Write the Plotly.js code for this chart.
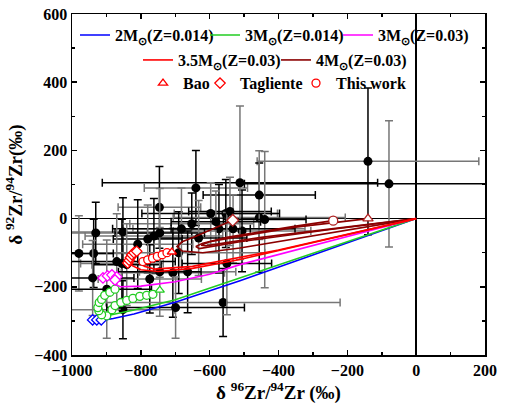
<!DOCTYPE html>
<html><head><meta charset="utf-8">
<script src="https://cdn.plot.ly/plotly-3.0.1.min.js"></script>
<style>html,body{margin:0;padding:0;background:#fff;font-family:'Liberation Serif'}#chart{width:505px;height:408px}</style>
</head><body><div id="chart"></div>
<script>
// ---- measured data (group A: gray x-bars / black y-bars) ----
const aX  = [-140,-640,-746,-553,-456,-652,-573,-506,-852,-762,-809,-937,-855,-707,-664,-774,-852,-561,-931,-690];
const aY  = [168,90,33,15,3,-15,-30,-36,-39,-51,-75,-102,-132,-159,-156,-177,-267,-246,-42,-100];
const aEX = [322,150,120,150,250,180,250,200,220,200,160,110,120,150,140,150,150,340,150,250];
const aEY = [215,110,120,100,160,90,130,120,100,110,130,100,130,130,120,100,85,100,90,120];
// ---- group B: black x-bars / gray y-bars ----
const bX  = [-79,-512,-456,-597,-541,-440,-582,-682,-532,-745,-780,-632,-980,-870,-841,-550,-745,-940,-899,-699];
const bY  = [102,105,69,15,21,-3,-9,-30,-30,-42,-60,-57,-102,-126,-135,-132,-156,-174,-207,-261];
const bEX = [420,400,163,200,120,120,130,200,180,130,100,140,100,170,100,130,120,120,130,200];
const bEY = [185,225,130,90,100,200,90,120,100,130,100,110,110,140,120,150,130,110,144,90];

// ---- model curves ----
const m2X = [0,-250,-512,-700,-820,-880,-905];
const m2Y = [0,-89,-182,-245,-280,-293,-297];
const m2mX = [-940,-928,-915];
const m2mY = [-297,-297,-297];

const m3X = [0,-250,-512,-700,-820,-880,-899];
const m3Y = [0,-85,-176,-238,-268,-282,-285];
const m3mX = [-899,-914,-922,-925,-921,-914,-905,-890,-875,-884,-875,-858,-841,-823,-803,-783,-765];
const m3mY = [-285,-282,-270,-261,-246,-237,-225,-216,-207,-267,-255,-246,-240,-234,-228,-225,-222];
const m3tX = [-745];
const m3tY = [-210];

const m3hX = [0,-250,-512,-600,-700,-800,-860,-880,-884];
const m3hY = [0,-66,-135,-163,-185,-198,-200,-190,-178];
const m3hmX = [-910,-897,-884,-870,-875];
const m3hmY = [-174,-168,-165,-171,-180];

const m35aX = [0,-250,-512,-650,-750,-800,-825,-830];
const m35aY = [0,-58,-120,-146,-155,-150,-138,-130];
const m35bX = [0,-400,-650,-760,-790,-798];
const m35bY = [0,-92,-140,-148,-140,-130];
const taglX = [-838,-834,-830,-826,-820,-812];
const taglY = [-130,-122,-114,-106,-100,-96];
const thisX = [-794,-780,-766,-752,-738,-724];
const thisY = [-126,-121,-116,-111,-106,-100];
const baoX = [-710];
const baoY = [-98];

const m4aX = [0,-250,-512,-620,-680,-695,-680,-640,-590,-533];
const m4aY = [0,-42,-86,-100,-95,-82,-68,-52,-30,-5];
const m4bX = [0,-250,-512,-600,-630,-640,-620,-550,-450,-350,-241];
const m4bY = [0,-32,-68,-82,-88,-82,-72,-55,-38,-22,-6];
const m4cX = [0,-250,-450,-560,-610,-625,-600,-500,-350,-140];
const m4cY = [0,-30,-55,-72,-80,-78,-68,-50,-25,0];
const m4endX = [-140,-241,-533];
const m4endY = [0,-6,-5];
const m4endSym = ['triangle-up','circle','diamond'];

const F = 'Liberation Serif';
const BLUE='#0000ff', GREEN='#22cc22', MAG='#ff00ff', RED='#ff0000', DRED='#8b0000';
const lw = 1.6;

function line(x,y,c,name,leg){
  return {x:x,y:y,mode:'lines',type:'scatter',line:{color:c,width:lw},name:name,
    showlegend:!!leg,legend:leg||'legend',hoverinfo:'skip'};
}
function mk(x,y,c,sym,name,leg){
  return {x:x,y:y,mode:'markers',type:'scatter',name:name,showlegend:!!leg,legend:leg||'legend',
    marker:{symbol:sym,size:8,color:'#ffffff',line:{color:c,width:1.3}},hoverinfo:'skip'};
}
const data = [
  {x:aX,y:aY,mode:'markers',type:'scatter',showlegend:false,marker:{color:'#000',size:9},
   error_x:{type:'data',array:aEX,color:'#777',thickness:1.5,width:4},
   error_y:{type:'data',array:aEY,color:'#000',thickness:1.5,width:4}},
  {x:bX,y:bY,mode:'markers',type:'scatter',showlegend:false,marker:{color:'#000',size:9},
   error_x:{type:'data',array:bEX,color:'#000',thickness:1.5,width:4},
   error_y:{type:'data',array:bEY,color:'#777',thickness:1.5,width:4}},
  line(m2X,m2Y,BLUE,'<b>2M<sub>⊙</sub>(Z=0.014)</b>','legend'),
  mk(m2mX,m2mY,BLUE,'diamond'),
  line(m3X,m3Y,GREEN,'<b>3M<sub>⊙</sub>(Z=0.014)</b>','legend2'),
  mk(m3mX,m3mY,GREEN,'circle'),
  mk(m3tX,m3tY,GREEN,'triangle-up'),
  line(m3hX,m3hY,MAG,'<b>3M<sub>⊙</sub>(Z=0.03)</b>','legend3'),
  mk(m3hmX,m3hmY,MAG,'diamond'),
  line(m4aX,m4aY,DRED,'<b>4M<sub>⊙</sub>(Z=0.03)</b>','legend5'),
  line(m4bX,m4bY,DRED),
  line(m4cX,m4cY,DRED),
  {x:m4endX,y:m4endY,mode:'markers',type:'scatter',showlegend:false,hoverinfo:'skip',
   marker:{symbol:m4endSym,size:9,color:'#fff',line:{color:'#b02020',width:1.3}}},
  line(m35aX,m35aY,RED,'<b>3.5M<sub>⊙</sub>(Z=0.03)</b>','legend4'),
  line(m35bX,m35bY,RED),
  mk(taglX,taglY,RED,'diamond','<b>Tagliente</b>','legend7'),
  mk(thisX,thisY,RED,'circle','<b>This work</b>','legend8'),
  mk(baoX,baoY,RED,'triangle-up','<b>Bao</b>','legend6')
];

function leg(px,row){
  const ys=[0.938,0.865,0.797];
  return {x:(px-72)/413,xanchor:'left',y:ys[row],yanchor:'middle',orientation:'h',
    bgcolor:'rgba(0,0,0,0)',borderwidth:0,font:{family:F,size:16,color:'#000'}};
}
const axBase = {showgrid:false,showline:true,linecolor:'#000',linewidth:1.5,mirror:'allticks',
  ticks:'inside',ticklen:5,tickwidth:1.5,tickcolor:'#000',zeroline:true,zerolinecolor:'#000',zerolinewidth:1.5,
  tickfont:{family:F,size:16,color:'#000',weight:'bold'}};
const layout = {
  width:505,height:408,margin:{l:72,r:20,t:14,b:53},
  paper_bgcolor:'#fff',plot_bgcolor:'#fff',font:{family:F},
  xaxis:Object.assign({},axBase,{range:[-1000,200],dtick:200,tick0:0,ticklabelstandoff:0,
    minor:{dtick:100,ticks:'inside',ticklen:3,tickcolor:'#000',tickwidth:1.5,showgrid:false},
    title:{text:'<b>δ <sup>96</sup>Zr/<sup>94</sup>Zr (‰)</b>',font:{family:F,size:19,color:'#000'},standoff:4}}),
  yaxis:Object.assign({},axBase,{range:[-400,600],dtick:200,tick0:0,
    minor:{dtick:100,ticks:'inside',ticklen:3,tickcolor:'#000',tickwidth:1.5,showgrid:false},
    title:{text:'<b>δ <sup>92</sup>Zr/<sup>94</sup>Zr(‰)</b>',font:{family:F,size:19,color:'#000'},standoff:6}}),
  legend:leg(75,0), legend2:leg(205,0), legend3:leg(338,0),
  legend4:leg(138,1), legend5:leg(276,1),
  legend6:leg(143,2), legend7:leg(200,2), legend8:leg(296,2),
  showlegend:true
};
Plotly.newPlot('chart',data,layout,{staticPlot:true,displayModeBar:false});
</script></body></html>
